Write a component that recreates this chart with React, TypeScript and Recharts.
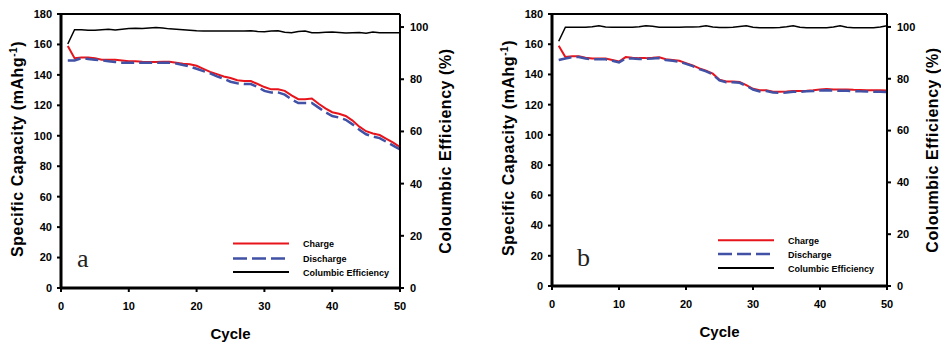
import React from 'react';
import { LineChart, Line, XAxis, YAxis, ReferenceLine, Legend, Label } from 'recharts';

const cycles = [
  1, 2, 3, 4, 5, 6, 7, 8, 9, 10, 11, 12, 13, 14, 15, 16, 17, 18, 19, 20, 21, 22, 23, 24, 25,
  26, 27, 28, 29, 30, 31, 32, 33, 34, 35, 36, 37, 38, 39, 40, 41, 42, 43, 44, 45, 46, 47, 48, 49, 50,
];

const chargeA = [
  159, 151, 151.5, 151.5, 151, 150, 150, 150, 149.5, 149, 149, 148.7, 148.5, 148.5, 148.7, 148.7, 148, 147.3, 147, 146,
  144, 142, 140.5, 139, 138, 136.5, 136, 136, 134, 132, 130.5, 130.5, 129.5, 126.5, 124, 124, 124.5, 121, 118, 115.5,
  114.5, 113, 110, 106, 103, 101.5, 100.5, 98, 95.5, 92.5,
];
const dischargeA = [
  149.5, 149.5, 151, 150.5, 150, 149.5, 149, 148.5, 148, 148, 148, 148, 148, 148, 148, 148, 147.5, 146.5, 145.5, 144,
  142.5, 141, 139, 137.5, 135.5, 134.5, 134, 134, 132, 129.5, 128.5, 128.5, 127, 124, 121.5, 121.5, 121.5, 118.5, 115.5, 113,
  112, 110.5, 107.5, 104, 101, 99.5, 98.5, 96, 93.5, 91,
];
const efficiencyA = [
  93.5, 99, 99, 98.8, 98.8, 99, 99.2, 98.9, 99.2, 99.4, 99.5, 99.4, 99.6, 99.8, 99.6, 99.3, 99.2, 99, 98.8, 98.6,
  98.5, 98.5, 98.5, 98.5, 98.5, 98.5, 98.5, 98.6, 98.3, 98.2, 98.5, 98.6, 98, 97.8, 98.3, 98.5, 97.8, 97.8, 98, 98.1,
  97.9, 97.7, 97.8, 97.9, 97.6, 98.1, 97.8, 97.8, 97.8, 97.8,
];

const chargeB = [
  159, 151.5, 152, 152, 151, 150.5, 150.5, 150.5, 149.5, 148.5, 151.5, 151, 150.8, 150.8, 151, 151.3, 150, 149.5, 149, 147.5,
  146, 144, 142.5, 140.5, 136.5, 135.3, 135.3, 135, 133, 130.5, 129.5, 129.5, 128.5, 128.5, 128.7, 129, 129, 129.2, 129.5, 130,
  130.3, 130, 130, 130, 129.8, 129.7, 129.5, 129.5, 129.5, 129.3,
];
const dischargeB = [
  149.5, 150.5, 151.5, 151.5, 150.5, 150, 150, 150, 149, 148, 150.5, 150.5, 150.3, 150.3, 150.5, 150.8, 149.5, 149, 148.5, 147,
  145.5, 143.5, 142, 140, 136, 134.8, 134.8, 134.5, 132.5, 130, 128.8, 129, 128, 127.8, 128, 128.5, 128.5, 128.8, 129, 129.3,
  129.5, 129.3, 129.2, 129.2, 129, 128.8, 128.7, 128.5, 128.5, 128.3,
];
const efficiencyB = [
  94.5, 99.9, 99.9, 99.9, 99.9, 100.1, 100.5, 100, 99.9, 99.9, 99.9, 99.9, 100.1, 100.5, 100.3, 99.9, 99.9, 99.9, 99.9, 100,
  100, 100.1, 100.5, 100, 99.8, 99.8, 99.9, 100.2, 100.5, 99.9, 99.7, 99.7, 99.7, 99.8, 100.1, 100.5, 99.9, 99.7, 99.7, 99.7,
  99.7, 100, 100.5, 99.9, 99.7, 99.7, 99.7, 99.7, 100, 100.5,
];

const capacityTicks = [0, 20, 40, 60, 80, 100, 120, 140, 160, 180];
const efficiencyTicks = [0, 20, 40, 60, 80, 100];
const cycleTicks = [0, 10, 20, 30, 40, 50];
const legendLabels = ['Charge', 'Discharge', 'Columbic Efficiency'];
const panelLetters = ['a', 'b'];

const FONT = '"Liberation Sans", Arial, sans-serif';
const RED = '#e8141c';
const BLUE = '#4051a6';
const DASH = '13 5';

function buildRows(charge: number[], discharge: number[], ce: number[]) {
  return cycles.map((c, i) => ({ cycle: c, charge: charge[i], discharge: discharge[i], ce: ce[i] }));
}

type PanelCfg = {
  left: number;
  width: number;
  leftW: number;
  rightW: number;
  xH: number;
  letter: string;
  letterX: number;
  letterY: number;
  legendX: number;
  legendYs: number[];
  leftTitleX: number;
  leftTitleY: number;
  rightTitleX: number;
  rightTitleY: number;
  cycleY: number;
  cycleX: number;
};

function Panel({ rows, cfg }: { rows: any[]; cfg: PanelCfg }) {
  const H = 344;
  const tickStyle = { fill: '#000', fontSize: 11, fontWeight: 'bold', fontFamily: FONT };
  const legendContent = () => (
    <svg width={cfg.width} height={H} style={{ position: 'absolute', left: 0, top: 0, pointerEvents: 'none' }}>
      <text x={cfg.letterX} y={cfg.letterY} fontFamily='"Liberation Serif", "Times New Roman", serif' fontSize={26} fill="#222">
        {cfg.letter}
      </text>
      {legendLabels.map((lab, i) => {
        const y = cfg.legendYs[i];
        const color = i === 0 ? RED : i === 1 ? BLUE : '#000';
        return (
          <g key={lab}>
            <line
              x1={cfg.legendX}
              x2={cfg.legendX + 56}
              y1={y}
              y2={y}
              stroke={color}
              strokeWidth={i === 1 ? 2.5 : 2}
              strokeDasharray={i === 1 ? '14 5' : undefined}
            />
            <text x={cfg.legendX + 70} y={y + 3.5} fontFamily={FONT} fontSize={9} fontWeight="bold" fill="#000">
              {lab}
            </text>
          </g>
        );
      })}
    </svg>
  );

  return (
    <div style={{ position: 'absolute', left: cfg.left, top: 0, width: cfg.width, height: H }}>
      <LineChart width={cfg.width} height={H} data={rows} margin={{ top: 14, right: 0, bottom: 0, left: 0 }}>
        <XAxis
          dataKey="cycle"
          type="number"
          domain={[0, 50]}
          ticks={cycleTicks}
          height={cfg.xH}
          tickSize={4}
          tickMargin={10}
          axisLine={{ stroke: '#000', strokeWidth: 3 }}
          tickLine={{ stroke: '#000', strokeWidth: 2 }}
          tick={tickStyle}
          interval={0}
        >
          <Label
            content={() => (
              <text x={cfg.cycleX} y={cfg.cycleY} textAnchor="middle" fontFamily={FONT} fontSize={15} fontWeight="bold" fill="#000">
                Cycle
              </text>
            )}
          />
        </XAxis>
        <YAxis
          yAxisId="cap"
          domain={[0, 180]}
          ticks={capacityTicks}
          width={cfg.leftW}
          tickSize={4}
          tickMargin={5}
          axisLine={{ stroke: '#000', strokeWidth: 3 }}
          tickLine={{ stroke: '#000', strokeWidth: 2 }}
          tick={tickStyle}
          interval={0}
        >
          <Label
            content={() => (
              <text
                x={cfg.leftTitleX}
                y={cfg.leftTitleY}
                transform={`rotate(-90 ${cfg.leftTitleX} ${cfg.leftTitleY})`}
                textAnchor="middle"
                fontFamily={FONT}
                fontSize={16}
                letterSpacing={0.55}
                fontWeight="bold"
                fill="#000"
              >
                Specific Capacity (mAhg
                <tspan dy={-6} fontSize={10}>-1</tspan>
                <tspan dy={6}>)</tspan>
              </text>
            )}
          />
        </YAxis>
        <YAxis
          yAxisId="ce"
          orientation="right"
          domain={[0, 105]}
          ticks={efficiencyTicks}
          width={cfg.rightW}
          tickSize={4}
          tickMargin={6}
          axisLine={{ stroke: '#000', strokeWidth: 2 }}
          tickLine={{ stroke: '#000', strokeWidth: 2 }}
          tick={tickStyle}
          interval={0}
        >
          <Label
            content={() => (
              <text
                x={cfg.rightTitleX}
                y={cfg.rightTitleY}
                transform={`rotate(-90 ${cfg.rightTitleX} ${cfg.rightTitleY})`}
                textAnchor="middle"
                fontFamily={FONT}
                fontSize={16}
                letterSpacing={0.55}
                fontWeight="bold"
                fill="#000"
              >
                Coloumbic Efficiency (%)
              </text>
            )}
          />
        </YAxis>
        <ReferenceLine yAxisId="cap" y={180} stroke="#000" strokeWidth={2} />
        <Line yAxisId="ce" dataKey="ce" stroke="#000" strokeWidth={1.5} dot={false} isAnimationActive={false} />
        <Line yAxisId="cap" dataKey="charge" stroke={RED} strokeWidth={2} dot={false} isAnimationActive={false} />
        <Line
          yAxisId="cap"
          dataKey="discharge"
          stroke={BLUE}
          strokeWidth={2.5}
          strokeDasharray={DASH}
          dot={false}
          isAnimationActive={false}
        />
        <Legend
          layout="horizontal"
          verticalAlign="middle"
          align="center"
          content={legendContent}
          wrapperStyle={{ position: 'absolute', left: 0, top: 0, width: cfg.width, height: H, pointerEvents: 'none' }}
        />
      </LineChart>
    </div>
  );
}

const panelA: PanelCfg = {
  left: 0,
  width: 470,
  leftW: 61,
  rightW: 70,
  xH: 56,
  letter: panelLetters[0],
  letterX: 77,
  letterY: 267,
  legendX: 233,
  legendYs: [243.5, 258.5, 272],
  leftTitleX: 23,
  leftTitleY: 149,
  rightTitleX: 451,
  rightTitleY: 151,
  cycleY: 339,
  cycleX: 230.5,
};

const panelB: PanelCfg = {
  left: 490,
  width: 451,
  leftW: 62,
  rightW: 54,
  xH: 58,
  letter: panelLetters[1],
  letterX: 87,
  letterY: 266,
  legendX: 228,
  legendYs: [240.3, 254, 268],
  leftTitleX: 24,
  leftTitleY: 148,
  rightTitleX: 448,
  rightTitleY: 150,
  cycleY: 337,
  cycleX: 229.5,
};

export default function App() {
  const rowsA = buildRows(chargeA, dischargeA, efficiencyA);
  const rowsB = buildRows(chargeB, dischargeB, efficiencyB);
  return (
    <div style={{ position: 'absolute', left: 0, top: 0, width: 941, height: 344, background: '#fff', overflow: 'hidden' }}>
      <Panel rows={rowsA} cfg={panelA} />
      <Panel rows={rowsB} cfg={panelB} />
    </div>
  );
}
